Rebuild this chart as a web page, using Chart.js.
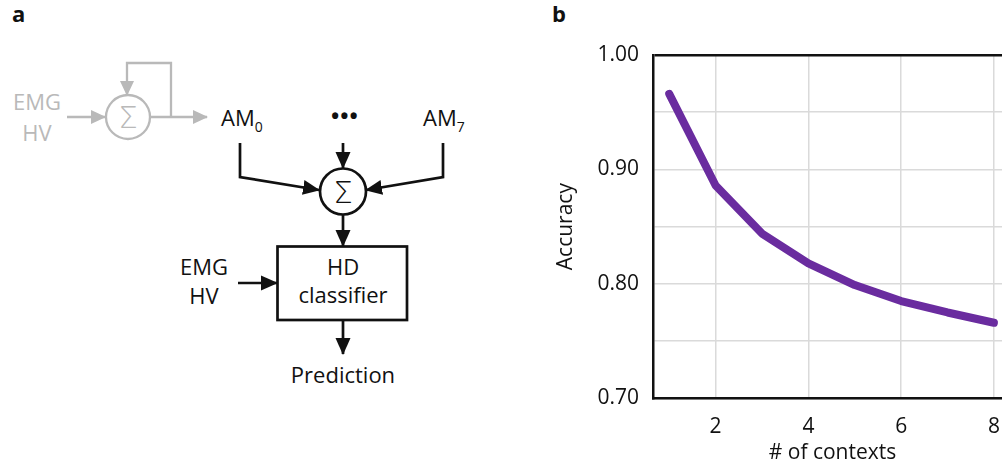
<!DOCTYPE html>
<html>
<head>
<meta charset="utf-8">
<script src="https://cdn.jsdelivr.net/npm/chart.js@4"></script>
<style>
  html, body { margin: 0; padding: 0; background: #fff; }
  body { width: 1002px; height: 470px; overflow: hidden; position: relative; font-family: "Open Sans", sans-serif; }
  #diagram { position: absolute; left: 0; top: 0; }
  #plotWrap { position: absolute; left: 540px; top: 0; width: 480px; height: 470px; }
  .lbl { font-family: "Open Sans", sans-serif; font-size: 22px; }
</style>
</head>
<body>
<svg id="diagram" width="1002" height="470" xmlns="http://www.w3.org/2000/svg">
  <defs>
    <marker id="headG" markerWidth="16" markerHeight="16" refX="14" refY="8" orient="auto" markerUnits="userSpaceOnUse">
      <path d="M0,1 L15,8 L0,15 Z" fill="#b9b9b9"/>
    </marker>
    <marker id="headK" markerWidth="18" markerHeight="18" refX="16" refY="9" orient="auto" markerUnits="userSpaceOnUse">
      <path d="M0,1.5 L17,9 L0,16.5 Z" fill="#111"/>
    </marker>
  </defs>

  <!-- panel letters -->
  <text x="12" y="22" font-family="Open Sans, sans-serif" font-weight="bold" font-size="22" fill="#111">a</text>
  <text x="552" y="22" font-family="Open Sans, sans-serif" font-weight="bold" font-size="22" fill="#111">b</text>

  <!-- associative memory accumulator (grey) -->
  <g stroke="#b9b9b9" stroke-width="2.3" fill="none">
    <line x1="67" y1="117" x2="105" y2="117" marker-end="url(#headG)"/>
    <circle cx="128" cy="117" r="22"/>
    <line x1="150" y1="117" x2="207" y2="117" marker-end="url(#headG)"/>
    <polyline points="171,117 171,63 127,63 127,95" marker-end="url(#headG)"/>
  </g>
  <g fill="#b9b9b9" class="lbl" text-anchor="middle">
    <text x="37" y="110">EMG</text>
    <text x="37" y="141">HV</text>
    <text x="128" y="128" font-size="31" font-family="DejaVu Sans, sans-serif" font-weight="200">Σ</text>
  </g>

  <!-- context memories -->
  <g fill="#111" class="lbl">
    <text x="221" y="126">AM<tspan font-size="14" dy="6">0</tspan></text>
    <text x="331" y="124" font-weight="bold" font-size="22" letter-spacing="1">•••</text>
    <text x="423" y="126">AM<tspan font-size="14" dy="6">7</tspan></text>
  </g>

  <g stroke="#111" stroke-width="2.7" fill="none">
    <polyline points="240,143 240,177 319,190" marker-end="url(#headK)"/>
    <polyline points="443,143 443,177 366,190" marker-end="url(#headK)"/>
    <line x1="343" y1="143" x2="343" y2="168" marker-end="url(#headK)"/>
    <circle cx="343" cy="191.5" r="23"/>
    <line x1="343" y1="215" x2="343" y2="246" marker-end="url(#headK)"/>
    <rect x="277.5" y="246.5" width="129.5" height="73.5"/>
    <line x1="238" y1="283" x2="277" y2="283" marker-end="url(#headK)"/>
    <line x1="343" y1="320" x2="343" y2="354" marker-end="url(#headK)"/>
  </g>
  <g fill="#111" class="lbl" text-anchor="middle">
    <text x="343" y="203" font-size="31" font-family="DejaVu Sans, sans-serif" font-weight="200">Σ</text>
    <text x="343" y="275">HD</text>
    <text x="343" y="303">classifier</text>
    <text x="204" y="275">EMG</text>
    <text x="204" y="304">HV</text>
    <text x="343" y="383">Prediction</text>
  </g>
</svg>

<div id="plotWrap"><canvas id="plot" width="480" height="470"></canvas></div>

<script>
// number of contexts stored and the resulting classification accuracy
const contexts = [1, 2, 3, 4, 5, 6, 7, 8];
const accuracy = [0.966, 0.886, 0.844, 0.818, 0.799, 0.785, 0.775, 0.766];

// tick positions
const xTickValues = [2, 4, 6, 8];
const yTickValues = [0.70, 0.75, 0.80, 0.85, 0.90, 0.95, 1.00];
const yLabelValues = [0.70, 0.80, 0.90, 1.00];

const axisFont = { family: "'Open Sans', sans-serif", size: 21 };
const ink = '#111';
const gridGrey = '#dadada';

const near = (a, b) => Math.abs(a - b) < 1e-6;

new Chart(document.getElementById('plot'), {
  type: 'line',
  data: {
    datasets: [{
      data: contexts.map((c, i) => ({ x: c, y: accuracy[i] })),
      borderColor: '#6a2c9f',
      borderWidth: 8,
      borderCapStyle: 'round',
      borderJoinStyle: 'round',
      tension: 0,
      pointRadius: 0,
      fill: false
    }]
  },
  options: {
    responsive: false,
    animation: false,
    events: [],
    layout: { padding: { left: 0, top: 55, right: 8, bottom: 0 } },
    plugins: { legend: { display: false }, tooltip: { enabled: false } },
    scales: {
      x: {
        type: 'linear',
        min: 0.65,
        max: 8.39,
        afterBuildTicks: s => { s.ticks = xTickValues.map(v => ({ value: v })); },
        afterFit: s => { s.height = 470 - 398.3; },
        ticks: { color: ink, font: axisFont, padding: 16, maxRotation: 0,
                 callback: v => String(v) },
        grid: { color: gridGrey, lineWidth: 1.5, drawTicks: false },
        border: { color: ink, width: 2.5 },
        title: { display: true, text: '# of contexts', color: ink, font: axisFont,
                 padding: { top: 0, bottom: 4 } }
      },
      y: {
        min: 0.70,
        max: 1.00,
        afterBuildTicks: s => { s.ticks = yTickValues.map(v => ({ value: v })); },
        afterFit: s => { s.width = 113; },
        ticks: {
          color: ink, font: axisFont, padding: 14,
          callback: v => yLabelValues.some(l => near(l, v)) ? v.toFixed(2) : ''
        },
        grid: {
          drawTicks: false,
          color: c => (c.tick && near(c.tick.value, 1.0)) ? ink : gridGrey,
          lineWidth: c => (c.tick && near(c.tick.value, 1.0)) ? 2.5 : 1.5
        },
        border: { color: ink, width: 2.5 },
        title: { display: true, text: 'Accuracy', color: ink, font: axisFont,
                 padding: { top: 13, bottom: 0 } }
      }
    }
  }
});
</script>
</body>
</html>
